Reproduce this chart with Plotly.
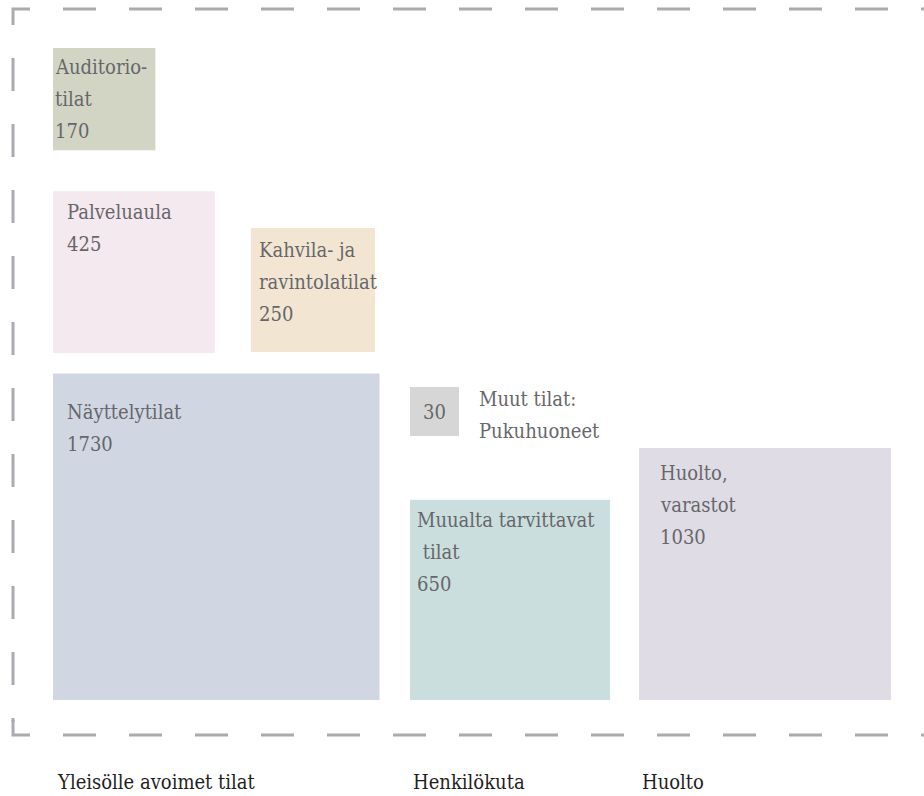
import math
import plotly.graph_objects as go

# ---------------- data ----------------
names = [
    "Auditorio-\ntilat",
    "Palveluaula",
    "Kahvila- ja\nravintolatilat",
    "Näyttelytilat",
    "Muut tilat:\nPukuhuoneet",
    "Muualta tarvittavat\n\u00a0tilat",
    "Huolto,\nvarastot",
]
values = [170, 425, 250, 1730, 30, 650, 1030]
groups = ["Yleisölle avoimet tilat", "Henkilökuta", "Huolto"]

# ---------------- styles / layout ----------------
colors = ["#d3d5c4", "#f4e9ee", "#f2e6d3", "#d0d7e3", "#d6d6d6", "#cadfdd", "#dfdce5"]
K = 7.85          # px per sqrt(unit) -> square area proportional to value
MIN_SIDE = 49     # smallest square drawn so its label fits
# anchor point, pinned corner, label offset (dx from box left, baseline offset from box top)
placement = [
    dict(ax=53,  ay=48,  h="left",  v="top",    dx=0,  db=24, mode="in"),
    dict(ax=53,  ay=353, h="left",  v="bottom", dx=12, db=26, mode="in"),
    dict(ax=375, ay=352, h="right", v="bottom", dx=6,  db=28, mode="in"),
    dict(ax=53,  ay=700, h="left",  v="bottom", dx=12, db=44, mode="in"),
    dict(ax=410, ay=387, h="left",  v="top",    dx=18, db=17, mode="out"),
    dict(ax=410, ay=700, h="left",  v="bottom", dx=5,  db=26, mode="in"),
    dict(ax=639, ay=700, h="left",  v="bottom", dx=19, db=30, mode="in"),
]
group_x = [55, 411, 640]
group_baseline = 787
LINE_GAP = 32
ASC = 19.5        # annotation top -> first baseline

FONT = "DejaVu Serif Condensed, DejaVu Serif"
FS = 20
TXT = "#66666b"
DARK = "#1e1e1e"
LINE = "#abaaae"
W, H = 924, 796

fig = go.Figure()
shapes = []
annotations = []


def add_lines(lines, x, baseline, color):
    for i, t in enumerate(lines):
        annotations.append(dict(x=x, y=baseline + i * LINE_GAP - ASC, xref="x", yref="y",
                                text=t, showarrow=False, xanchor="left", yanchor="top",
                                align="left", font=dict(family=FONT, size=FS, color=color)))


for name, val, col, p in zip(names, values, colors, placement):
    side = max(K * math.sqrt(val), MIN_SIDE)
    x0 = p["ax"] if p["h"] == "left" else p["ax"] - side
    y0 = p["ay"] if p["v"] == "top" else p["ay"] - side
    x1, y1 = x0 + side, y0 + side
    shapes.append(dict(type="rect", xref="x", yref="y", x0=x0, x1=x1, y0=y0, y1=y1,
                       fillcolor=col, line=dict(width=0), layer="below"))
    lines = name.split("\n")
    if p["mode"] == "in":
        add_lines(lines + [str(val)], x0 + p["dx"], y0 + p["db"], TXT)
    else:
        annotations.append(dict(x=(x0 + x1) / 2, y=(y0 + y1) / 2, xref="x", yref="y",
                                text=str(val), showarrow=False,
                                xanchor="center", yanchor="middle",
                                font=dict(family=FONT, size=FS, color=TXT)))
        add_lines(lines, x1 + p["dx"], y0 + p["db"], TXT)

for g, gx in zip(groups, group_x):
    add_lines([g], gx, group_baseline, DARK)

# dashed frame
dash = "33px,33px"
frame = [
    ("M 13,25 L 13,9 L 30,9", "solid"),
    ("M 13,720 L 13,735 L 30,735", "solid"),
    ("M 13,58 L 13,722", dash),
    ("M 63,9 L 924,9", dash),
    ("M 63,735 L 924,735", dash),
]
for path, d in frame:
    shapes.append(dict(type="path", xref="x", yref="y", path=path,
                       line=dict(color=LINE, width=3, dash=d)))

fig.update_layout(
    width=W, height=H, autosize=False,
    margin=dict(l=0, r=0, t=0, b=0, pad=0),
    paper_bgcolor="white", plot_bgcolor="white",
    font=dict(family=FONT),
    xaxis=dict(range=[0, W], visible=False, fixedrange=True),
    yaxis=dict(range=[H, 0], visible=False, fixedrange=True),
    shapes=shapes, annotations=annotations, showlegend=False,
)

fig.write_html("out.html", config={"displayModeBar": False})
